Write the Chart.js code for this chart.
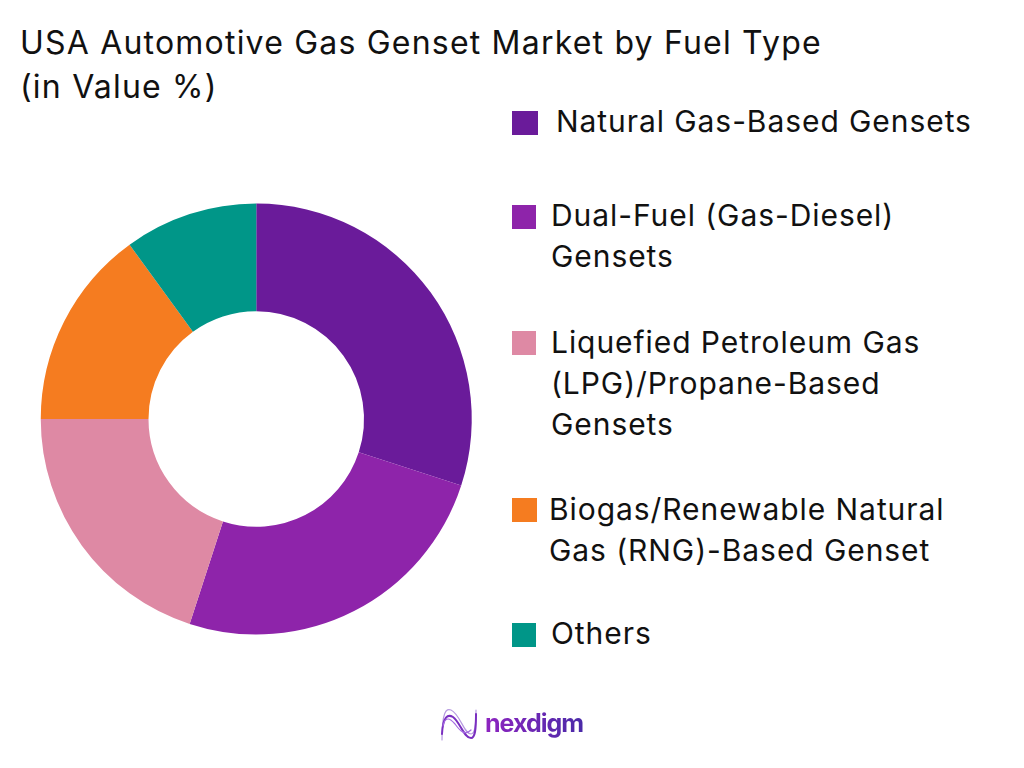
<!DOCTYPE html>
<html><head><meta charset="utf-8">
<script src="https://cdn.jsdelivr.net/npm/chart.js@4"></script>
<style>
html,body{margin:0;padding:0;background:#fff;width:1024px;height:768px;overflow:hidden;color:#111}
#wrap{position:absolute;left:0;top:0;width:512px;height:768px}
.t{position:absolute;white-space:pre;font-family:"Inter",sans-serif;font-weight:400}
.sw{position:absolute}
#brand{background:linear-gradient(90deg,#8e24c0,#4a2aa8);-webkit-background-clip:text;background-clip:text;color:transparent}
</style></head><body>
<div class="t" id="title" style="left:20px;top:21px;font-size:32px;line-height:44px;letter-spacing:1.2px"></div>
<div id="wrap"><canvas id="c" width="512" height="768"></canvas></div>
<div id="legend"></div>
<svg style="position:absolute;left:438px;top:704px" width="42" height="40" viewBox="0 0 42 40" fill="none" stroke-linecap="round">
<path d="M4 36 C4 8 8 4 13 6 C22 10 26 30 33 30 C37 30 38 22 38 6" stroke="#b79ae0" stroke-width="1.2"/>
<path d="M4 30 C5 12 10 10 15 13 C22 18 26 34 33 34 C37 34 38 26 38 10" stroke="#7a2fc0" stroke-width="2"/>
<path d="M5 22 C7 12 12 14 17 20 C22 27 27 32 33 26" stroke="#a46ae0" stroke-width="1.2"/>
</svg>
<div class="t" style="left:485px;top:706px;font-size:25px;line-height:34px;font-weight:700;letter-spacing:-1px" id="brand"></div>
<script>
const titleLines = ["USA Automotive Gas Genset Market by Fuel Type","(in Value %)"];
const categories = ["Natural Gas-Based Gensets","Dual-Fuel (Gas-Diesel) Gensets","Liquefied Petroleum Gas (LPG)/Propane-Based Gensets","Biogas/Renewable Natural Gas (RNG)-Based Genset","Others"];
const legendLines = [["Natural Gas-Based Gensets"],["Dual-Fuel (Gas-Diesel)","Gensets"],["Liquefied Petroleum Gas","(LPG)/Propane-Based","Gensets"],["Biogas/Renewable Natural","Gas (RNG)-Based Genset"],["Others"]];
const values = [30,25,20,15,10];
const colors = ["#6a1b9a","#8e24aa","#de89a4","#f57c20","#009688"];
const brandName = "nexdigm";
document.getElementById('title').textContent = titleLines.join("\n");
document.getElementById('brand').textContent = brandName;
const lx=[556,551,551,549,551], sw=[26,24,24,25,24], ty=[101,195,322,489,613], sy=[111,205,331,498,623];
const lg=document.getElementById('legend');
categories.forEach((c,i)=>{
  const s=document.createElement('div');s.className='sw';s.style.cssText='left:512px;top:'+sy[i]+'px;width:'+sw[i]+'px;height:24px;background:'+colors[i];lg.appendChild(s);
  const d=document.createElement('div');d.className='t';d.style.cssText='left:'+lx[i]+'px;top:'+ty[i]+'px;font-size:30px;line-height:41px;letter-spacing:0.93px';d.textContent=legendLines[i].join("\n");lg.appendChild(d);
});
new Chart(document.getElementById('c'),{type:'doughnut',
 data:{labels:categories,datasets:[{data:values,backgroundColor:colors,borderWidth:0}]},
 options:{responsive:false,animation:false,cutout:'50%',layout:{padding:{left:40.75,right:40.25,top:203.5,bottom:133.5}},
  plugins:{legend:{display:false},tooltip:{enabled:false}}}});
</script></body></html>
